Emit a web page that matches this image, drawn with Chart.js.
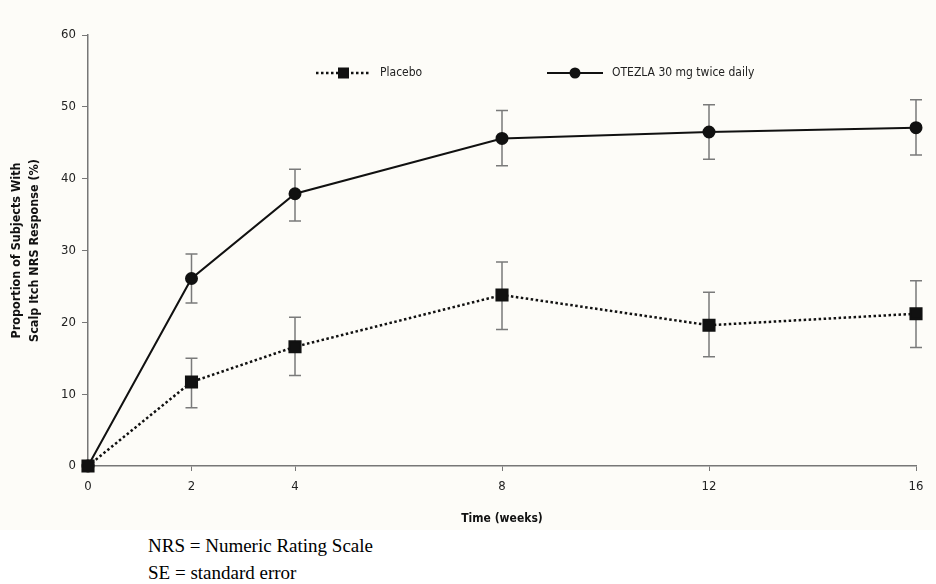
<!DOCTYPE html>
<html>
<head>
<meta charset="utf-8">
<script src="https://cdn.jsdelivr.net/npm/chart.js@4.4.1/dist/chart.umd.min.js"></script>
<style>
  body { margin: 0; background: #ffffff; }
  #wrap { width: 936px; height: 530px; background: #fdfcf8; }
  .note { position: absolute; left: 148px; font-family: "Liberation Serif", "Times New Roman", serif; font-size: 19px; color: #000; }
</style>
</head>
<body>
<div id="wrap"><canvas id="chart" width="936" height="530"></canvas></div>
<div class="note" style="top:535px">NRS = Numeric Rating Scale</div>
<div class="note" style="top:562px">SE = standard error</div>
<script>
'use strict';

// DATA
const weeks = [0, 2, 4, 8, 12, 16];
const xTicks = [0, 2, 4, 8, 12, 16];
const yTicks = [0, 10, 20, 30, 40, 50, 60];

const placeboLabel = 'Placebo';
const placeboValues = [0, 11.7, 16.6, 23.8, 19.6, 21.2];
const placeboLow = [0, 8.1, 12.6, 19.0, 15.2, 16.5];
const placeboHigh = [0, 15.0, 20.7, 28.4, 24.2, 25.8];

const otezlaLabel = 'OTEZLA 30 mg twice daily';
const otezlaValues = [0, 26.1, 37.9, 45.6, 46.5, 47.1];
const otezlaLow = [0, 22.7, 34.1, 41.8, 42.7, 43.3];
const otezlaHigh = [0, 29.5, 41.3, 49.5, 50.3, 51.0];

const FONT = '"DejaVu Sans Condensed", "Liberation Sans Narrow", Arial, sans-serif';

function toPoints(values) {
  return weeks.map((w, i) => ({ x: w, y: values[i] }));
}

// error bars drawn from the scales
const errorBars = {
  id: 'errorBars',
  beforeDatasetsDraw(chart) {
    const ctx = chart.ctx;
    const xs = chart.scales.x;
    const ys = chart.scales.y;
    const sets = [[placeboLow, placeboHigh], [otezlaLow, otezlaHigh]];
    ctx.save();
    ctx.strokeStyle = '#7a7a7a';
    ctx.lineWidth = 1.5;
    sets.forEach(([lo, hi]) => {
      for (let i = 0; i < weeks.length; i++) {
        if (lo[i] === hi[i]) continue;
        const x = xs.getPixelForValue(weeks[i]);
        const y1 = ys.getPixelForValue(lo[i]);
        const y2 = ys.getPixelForValue(hi[i]);
        ctx.beginPath();
        ctx.moveTo(x, y1); ctx.lineTo(x, y2);
        ctx.moveTo(x - 6, y1); ctx.lineTo(x + 6, y1);
        ctx.moveTo(x - 6, y2); ctx.lineTo(x + 6, y2);
        ctx.stroke();
      }
    });
    ctx.restore();
  }
};

// legend inside the plot, like the original
const innerLegend = {
  id: 'innerLegend',
  afterDraw(chart) {
    const ctx = chart.ctx;
    const y = 73;
    ctx.save();
    ctx.fillStyle = '#111';
    ctx.strokeStyle = '#111';
    // placebo
    ctx.lineWidth = 2.5;
    ctx.setLineDash([2.5, 2.5]);
    ctx.beginPath();
    ctx.moveTo(316, y); ctx.lineTo(370, y);
    ctx.stroke();
    ctx.setLineDash([]);
    ctx.fillRect(338, y - 5.5, 11, 11);
    // otezla
    ctx.lineWidth = 2;
    ctx.beginPath();
    ctx.moveTo(547, y); ctx.lineTo(603, y);
    ctx.stroke();
    ctx.beginPath();
    ctx.arc(575, y, 5.5, 0, Math.PI * 2);
    ctx.fill();
    ctx.font = '12px ' + FONT;
    ctx.textBaseline = 'middle';
    ctx.fillStyle = '#222';
    ctx.fillText(placeboLabel, 380, y);
    ctx.fillText(otezlaLabel, 612, y);
    ctx.restore();
  }
};

const ctx = document.getElementById('chart');

new Chart(ctx, {
  type: 'line',
  data: {
    datasets: [{
      label: placeboLabel,
      data: toPoints(placeboValues),
      borderColor: '#111',
      backgroundColor: '#111',
      borderWidth: 2.5,
      borderDash: [2.5, 2.5],
      pointStyle: 'rect',
      pointRadius: 7.5,
      pointHoverRadius: 7.5,
      tension: 0,
      clip: false
    },
    {
      label: otezlaLabel,
      data: toPoints(otezlaValues),
      borderColor: '#111',
      backgroundColor: '#111',
      borderWidth: 2,
      pointStyle: 'circle',
      pointRadius: 5.5,
      pointHoverRadius: 5.5,
      tension: 0,
      clip: false
    }]
  },
  options: {
    responsive: false,
    animation: false,
    layout: { padding: { top: 35, right: 20, left: 0, bottom: 0 } },
    plugins: {
      legend: { display: false },
      tooltip: { enabled: false }
    },
    scales: {
      x: {
        type: 'linear',
        min: 0,
        max: 16,
        afterBuildTicks: axis => { axis.ticks = xTicks.map(v => ({ value: v })); },
        afterFit: axis => { axis.height = 64; },
        grid: { drawOnChartArea: false, color: '#777', tickLength: 5 },
        border: { color: '#777', width: 1.5 },
        ticks: { color: '#222', font: { family: FONT, size: 13 }, padding: 8, maxRotation: 0 },
        title: { display: true, text: 'Time (weeks)', color: '#111', font: { family: FONT, size: 12, weight: 'bold' }, padding: { top: 12 } }
      },
      y: {
        min: 0,
        max: 60,
        afterBuildTicks: axis => { axis.ticks = yTicks.map(v => ({ value: v })); },
        afterFit: axis => { axis.width = 88; },
        grid: { drawOnChartArea: false, color: '#777', tickLength: 6 },
        border: { color: '#777', width: 1.5 },
        ticks: { color: '#222', font: { family: FONT, size: 13 }, padding: 6 },
        title: { display: true, text: ['Proportion of Subjects With', 'Scalp Itch NRS Response (%)'], color: '#111', font: { family: FONT, size: 12.5, weight: 'bold', lineHeight: 1.4 }, padding: { top: 8, bottom: 4 } }
      }
    }
  },
  plugins: [errorBars, innerLegend]
});
</script>
</body>
</html>
